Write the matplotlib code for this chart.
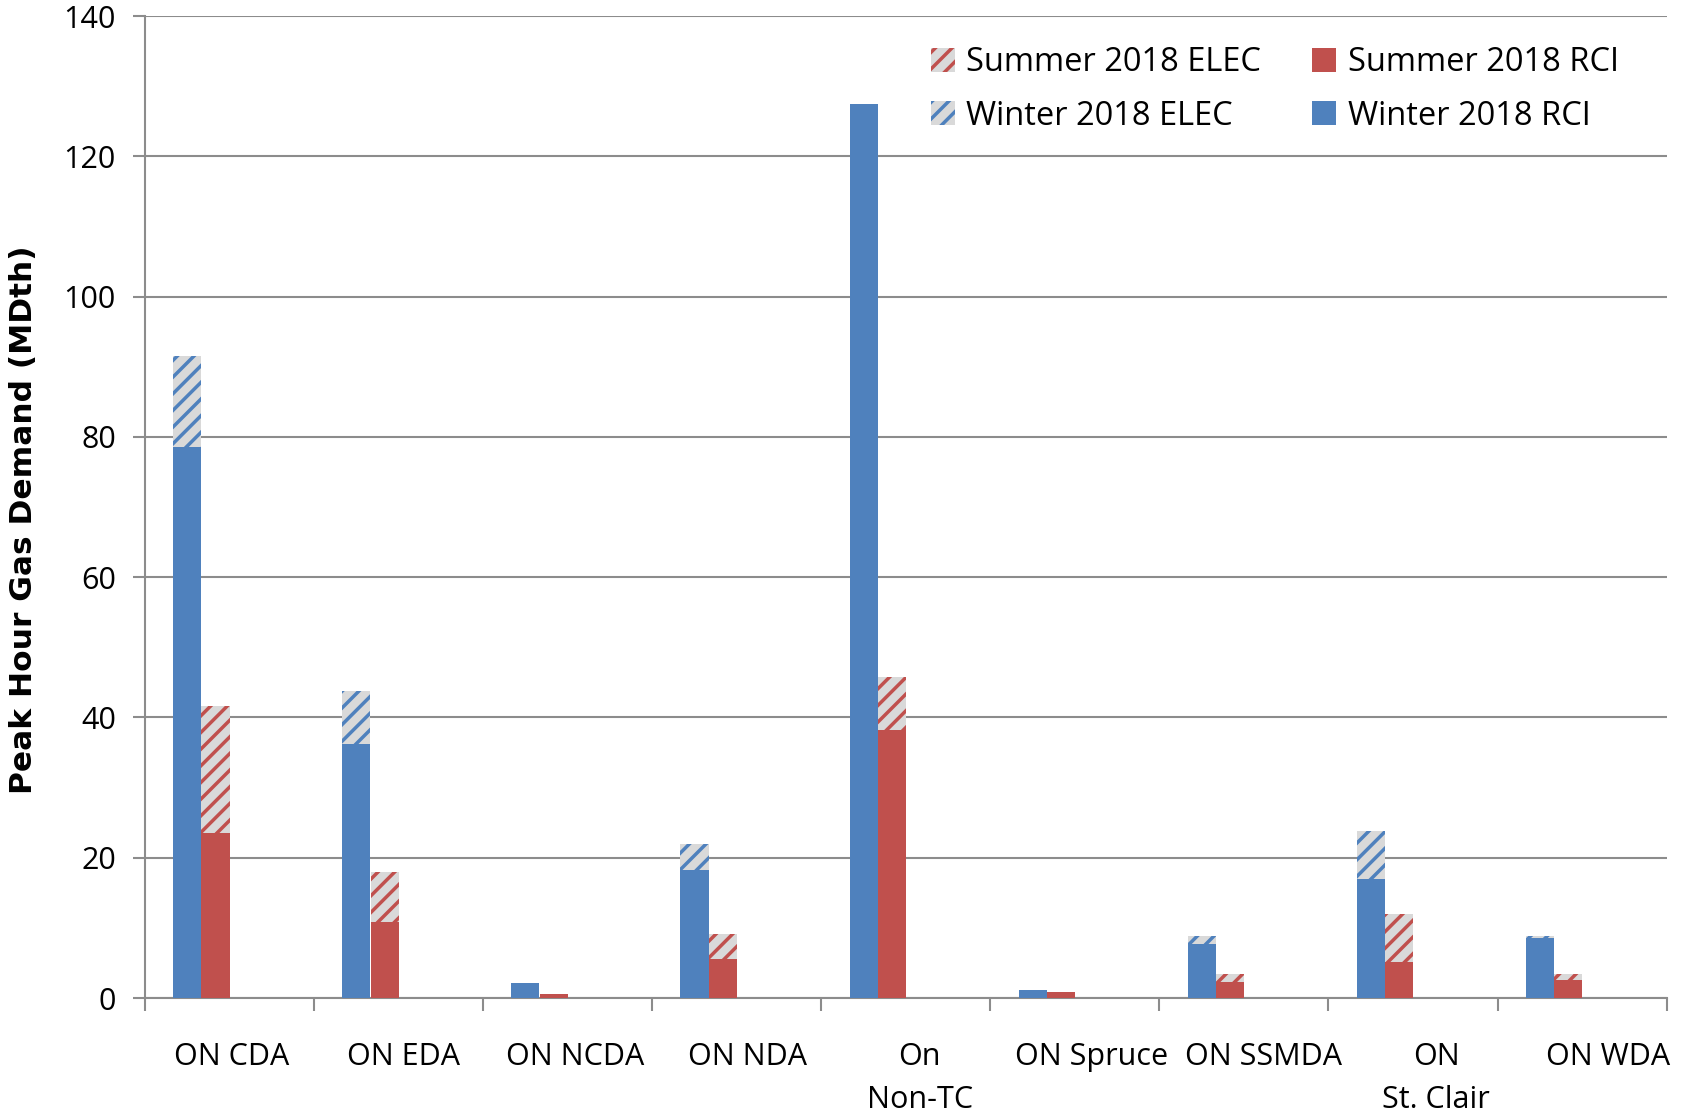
import numpy as np
import matplotlib.pyplot as plt
from matplotlib.patches import Patch

plt.rcParams['font.family'] = ['Open Sans', 'DejaVu Sans']
plt.rcParams['hatch.linewidth'] = 2.5

categories = ['ON CDA', 'ON EDA', 'ON NCDA', 'ON NDA', 'On\nNon-TC',
              'ON Spruce', 'ON SSMDA', 'ON\nSt. Clair', 'ON WDA']
winter_rci = [78.5, 36.2, 2.1, 18.2, 127.5, 1.2, 7.7, 16.9, 8.5]
winter_elec = [13.0, 7.5, 0.0, 3.8, 0.0, 0.0, 1.1, 6.9, 0.3]
summer_rci = [23.5, 10.9, 0.6, 5.5, 38.2, 0.8, 2.3, 5.1, 2.6]
summer_elec = [18.2, 7.1, 0.0, 3.6, 7.6, 0.0, 1.1, 6.9, 0.8]

blue = '#4f81bd'
red = '#c0504d'
hatch_bg = '#d9d9d9'

fig = plt.figure(figsize=(16.92, 11.12), dpi=100)
ax = fig.add_axes([0.0857, 0.1025, 0.8993, 0.8831])

x = np.arange(len(categories))
w = 0.166
xw = x - 0.25
xs = x - 0.083

ax.bar(xw, winter_rci, w, color=blue, linewidth=0, zorder=3)
ax.bar(xw, winter_elec, w, bottom=winter_rci, facecolor=hatch_bg,
       edgecolor=blue, hatch='//', linewidth=0, zorder=3)
ax.bar(xs, summer_rci, w, color=red, linewidth=0, zorder=3)
ax.bar(xs, summer_elec, w, bottom=summer_rci, facecolor=hatch_bg,
       edgecolor=red, hatch='//', linewidth=0, zorder=3)

ax.set_xlim(-0.5, len(categories) - 0.5)
ax.set_ylim(0, 140)
ax.set_yticks(np.arange(0, 141, 20))
ax.yaxis.grid(True, color='#8c8c8c', linewidth=1.5, zorder=0)

# labels in the original drift slightly right of the category centres
ax.set_xticks(x * 1.018 + 0.01)
ax.set_xticklabels(categories, fontsize=22, linespacing=1.55)
ax.set_xticks(np.arange(-0.5, len(categories)), minor=True)
ax.tick_params(axis='x', which='major', length=0, pad=32)
ax.tick_params(axis='x', which='minor', length=9, width=1.5, color='#8c8c8c', direction='out')
ax.tick_params(axis='y', length=9, width=1.5, color='#8c8c8c', labelsize=22, pad=12)

for s in ['top', 'right']:
    ax.spines[s].set_visible(False)
for s in ['left', 'bottom']:
    ax.spines[s].set_color('#8c8c8c')
    ax.spines[s].set_linewidth(1.5)

ax.set_ylabel('Peak Hour Gas Demand (MDth)', fontsize=22.5, fontweight='bold',
              family=['DejaVu Sans'])
ax.yaxis.set_label_coords(-0.07, 0.487)

handles = [
    Patch(facecolor=hatch_bg, edgecolor=red, hatch='//', linewidth=0, label='Summer 2018 ELEC'),
    Patch(facecolor=hatch_bg, edgecolor=blue, hatch='//', linewidth=0, label='Winter 2018 ELEC'),
    Patch(facecolor=red, linewidth=0, label='Summer 2018 RCI'),
    Patch(facecolor=blue, linewidth=0, label='Winter 2018 RCI'),
]
ax.legend(handles=handles, ncol=2, loc='upper right', bbox_to_anchor=(0.988, 0.999),
          frameon=False, fontsize=23.5, handlelength=0.75, handleheight=0.75,
          handletextpad=0.35, columnspacing=1.55, labelspacing=0.62)

fig.savefig('out.png', dpi=100)
